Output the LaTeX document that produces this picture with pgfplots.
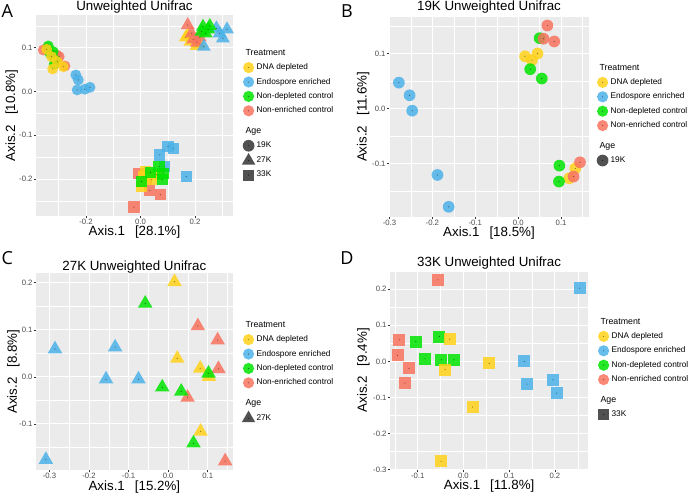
\documentclass[border=0pt]{standalone}
\usepackage{pgfplots}
\usepackage{pgfplotstable}
\pgfplotsset{compat=1.18}
\usepackage{fontspec}
\setmainfont{Liberation Sans}
\newfontfamily\letterfont{Open Sans}

\definecolor{ggbg}{HTML}{EBEBEB}
\definecolor{ggY}{HTML}{FFD21A}
\definecolor{ggB}{HTML}{4CB2E8}
\definecolor{ggG}{HTML}{00E400}
\definecolor{ggR}{HTML}{F8735F}
\definecolor{ggK}{HTML}{333333}
\definecolor{ticktext}{HTML}{4D4D4D}

% ---------------- Panel A (all ages) ----------------
\pgfplotstableread{
x y
-0.322 0.0514
-0.283 0.0567
-0.305 0.0681
-0.344 0.0962
-0.326 0.0795
}\AYc
\pgfplotstableread{
x y
-0.237 0.0377
-0.228 0.0263
-0.232 0.0036
-0.204 0.0051
-0.185 0.0096
}\ABc
\pgfplotstableread{
x y
-0.338 0.1038
-0.332 0.0871
-0.320 0.0909
-0.313 0.0719
-0.316 0.0628
}\AGc
\pgfplotstableread{
x y
-0.356 0.0947
-0.344 0.0985
-0.307 0.0833
-0.298 0.0795
-0.277 0.0582
}\ARc
\pgfplotstableread{
x y
0.166 0.1235
0.205 0.1038
0.183 0.1137
0.217 0.1084
0.174 0.1289
}\AYt
\pgfplotstableread{
x y
0.278 0.1440
0.317 0.1418
0.302 0.1213
0.232 0.1023
0.290 0.1327
}\ABt
\pgfplotstableread{
x y
0.229 0.1478
0.248 0.1418
0.223 0.1364
0.239 0.1327
0.254 0.1494
}\AGt
\pgfplotstableread{
x y
0.173 0.1516
0.193 0.1190
0.207 0.1114
0.187 0.1327
0.217 0.1235
}\ARt
\pgfplotstableread{
x y
0.0195 -0.1825
0.0037 -0.2166
0.0400 -0.2014
0.0585 -0.1900
0.0098 -0.1939
}\AYs
\pgfplotstableread{
x y
0.0707 -0.1445
0.1010 -0.1255
0.1220 -0.1293
0.1680 -0.1939
0.0890 -0.1710
}\ABs
\pgfplotstableread{
x y
0.0037 -0.2052
0.0366 -0.1848
0.0683 -0.1711
0.0830 -0.1863
0.0800 -0.2014
}\AGs
\pgfplotstableread{
x y
-0.0050 -0.1863
-0.0244 -0.2637
0.0341 -0.2257
0.0732 -0.2356
0.0220 -0.2014
}\ARs

% ---------------- Panel B (19K) ----------------
\pgfplotstableread{
x y
0.016 0.095
0.032 0.088
0.045 0.100
0.133 -0.109
0.119 -0.127
}\BY
\pgfplotstableread{
x y
-0.278 0.047
-0.253 0.024
-0.247 -0.004
-0.188 -0.121
-0.162 -0.179
}\BB
\pgfplotstableread{
x y
0.050 0.128
0.028 0.0715
0.055 0.0545
0.096 -0.104
0.095 -0.133
}\BG
\pgfplotstableread{
x y
0.068 0.151
0.059 0.127
0.084 0.122
0.144 -0.098
0.129 -0.124
}\BR

% ---------------- Panel C (27K) ----------------
\pgfplotstableread{
x y
0.016 0.202
0.023 0.039
0.081 0.018
0.103 0.0004
0.082 -0.116
}\CY
\pgfplotstableread{
x y
-0.309 -0.176
-0.286 0.059
-0.157 -0.005
-0.134 0.063
-0.075 -0.005
}\CB
\pgfplotstableread{
x y
-0.058 0.156
-0.015 -0.022
0.033 -0.031
0.102 0.0075
0.064 -0.141
}\CG
\pgfplotstableread{
x y
0.075 0.108
0.125 0.078
0.127 0.017
0.049 -0.044
0.144 -0.179
}\CR

% ---------------- Panel D (33K) ----------------
\pgfplotstableread{
x y
-0.030 0.0616
-0.040 -0.023
0.0566 -0.0057
0.020 -0.1266
-0.049 -0.277
}\DY
\pgfplotstableread{
x y
0.254 0.203
0.133 -0.0002
0.139 -0.063
0.196 -0.051
0.204 -0.088
}\DB
\pgfplotstableread{
x y
-0.104 0.055
-0.084 0.007
-0.053 0.069
-0.048 0.0044
-0.021 0.0044
}\DG
\pgfplotstableread{
x y
-0.0556 0.226
-0.140 0.060
-0.144 0.0164
-0.119 -0.0196
-0.128 -0.060
}\DR

\pgfplotsset{
  ggaxis/.style={
    scale only axis,
    axis background/.style={fill=ggbg},
    axis line style={draw=none},
    grid=both,
    major grid style={white, line width=0.6pt},
    minor grid style={white, line width=0.3pt},
    tick pos=left,
    tick align=outside,
    major tick length=1.8pt,
    minor tick length=0pt,
    tick style={ggK, line width=0.4pt},
    scaled ticks=false,
    ticklabel style={font=\fontsize{5.8}{6}\selectfont, text=ticktext, inner sep=0.6pt},
    /pgf/number format/assume math mode=true,
    xticklabel style={/pgf/number format/fixed, /pgf/number format/fixed zerofill, /pgf/number format/precision=1},
    yticklabel style={/pgf/number format/fixed, /pgf/number format/fixed zerofill, /pgf/number format/precision=1},
    label style={font=\fontsize{8}{9}\selectfont, inner sep=0.3pt},
    title style={font=\fontsize{8.3}{9}\selectfont, inner sep=0.5pt},
    legend style={draw=none, fill=none, inner sep=0pt, row sep=0pt, column sep=0pt,
      nodes={inner sep=0.5pt}, font=\fontsize{6.2}{7}\selectfont, anchor=north west},
    legend cell align=left,
  },
  xlab/.style={every axis x label/.style={at={(axis description cs:0.5,0)}, anchor=center, yshift=-#1}},
  ylab/.style={every axis y label/.style={at={(axis description cs:0,0.5)}, xshift=-#1, rotate=90, anchor=center}},
  ttl/.style={every axis title/.style={at={(axis description cs:0.5,1)}, anchor=center, yshift=#1}},
  ggblank/.style={legend image code/.code={\path[draw=none,fill=none] (-5.5pt,-5.4pt) rectangle (5.5pt,5.4pt);}},
  gggap/.style={legend image code/.code={\path[draw=none,fill=none] (-5.5pt,-5.4pt) rectangle (5.5pt,10pt);}},
  ggkey/.style 2 args={legend image code/.code={%
    \path[draw=none,fill=none] (-5.5pt,-5.4pt) rectangle (5.5pt,5.4pt);
    \path[draw=none,fill=none] plot[#1, mark options={draw opacity=0, fill=#2, fill opacity=0.85}] coordinates {(0pt,0pt)};
    \path[draw=none,fill=none] plot[mark=*, mark size=0.45pt, mark options={draw opacity=0, fill=#2!55!black}] coordinates {(0pt,0pt)};
  }},
}

\newcommand{\ggpts}[4]{%
  \addplot[forget plot, only marks, mark=#1, mark size=#2, mark options={draw opacity=0, fill=#3, fill opacity=0.85}] table {#4};
  \addplot[forget plot, only marks, mark=*, mark size=0.45pt, mark options={draw opacity=0, fill=#3!55!black}] table {#4};
}
\newcommand{\treatlegend}{%
  \addlegendimage{ggblank}\addlegendentry{\hspace*{-8.25pt}\fontsize{6.6}{7}\selectfont Treatment}
  \addlegendimage{ggkey={mark=*,mark size=4.2pt}{ggY}}\addlegendentry{DNA depleted}
  \addlegendimage{ggkey={mark=*,mark size=4.2pt}{ggB}}\addlegendentry{Endospore enriched}
  \addlegendimage{ggkey={mark=*,mark size=4.2pt}{ggG}}\addlegendentry{Non-depleted control}
  \addlegendimage{ggkey={mark=*,mark size=4.2pt}{ggR}}\addlegendentry{Non-enriched control}
  \addlegendimage{gggap}\addlegendentry{\hspace*{-8.25pt}\fontsize{6.6}{7}\selectfont Age}
}

\begin{document}
\begin{tikzpicture}
\useasboundingbox (0pt,0pt) rectangle (518.25pt,369.75pt);

% Panel letters
\node[font=\letterfont\fontsize{13.5}{14}\selectfont] at (5.4pt,361.1pt) {A};
\node[font=\letterfont\fontsize{13.5}{14}\selectfont] at (260.25pt,361.1pt) {B};
\node[font=\letterfont\fontsize{13.5}{14}\selectfont] at (5.4pt,176pt) {C};
\node[font=\letterfont\fontsize{13.5}{14}\selectfont] at (260.25pt,176pt) {D};

% ---------------- A ----------------
\begin{axis}[ggaxis, at={(27pt,207.75pt)}, anchor=south west,
  width=147.75pt, height=150.75pt,
  xmin=-0.383, xmax=0.339, ymin=-0.284, ymax=0.1745,
  xtick={-0.2,0,0.2}, minor xtick={-0.3,-0.1,0.1,0.3},
  ytick={-0.2,-0.1,0,0.1}, minor ytick={-0.25,-0.15,-0.05,0.05,0.15},
  title={Unweighted Unifrac}, ttl=5.8pt,
  xlabel={Axis.1\hspace{0.75em}[28.1\%]}, xlab=12pt,
  ylabel={Axis.2\hspace{0.75em}[10.8\%]}, ylab=18.2pt,
  legend style={at={(1.0406,0.847)}},
]
\ggpts{*}{4.1pt}{ggR}{\ARc}
\ggpts{*}{4.1pt}{ggG}{\AGc}
\ggpts{*}{4.1pt}{ggY}{\AYc}
\ggpts{*}{4.1pt}{ggB}{\ABc}
\ggpts{triangle*}{6pt}{ggY}{\AYt}
\ggpts{triangle*}{6pt}{ggR}{\ARt}
\ggpts{triangle*}{6pt}{ggB}{\ABt}
\ggpts{triangle*}{6pt}{ggG}{\AGt}
\ggpts{square*}{4.25pt}{ggR}{\ARs}
\ggpts{square*}{4.25pt}{ggY}{\AYs}
\ggpts{square*}{4.25pt}{ggB}{\ABs}
\ggpts{square*}{4.25pt}{ggG}{\AGs}
\treatlegend
\addlegendimage{ggkey={mark=*,mark size=4.4pt}{ggK}}\addlegendentry{19K}
\addlegendimage{ggkey={mark=triangle*,mark size=5.8pt}{ggK}}\addlegendentry{27K}
\addlegendimage{ggkey={mark=square*,mark size=4.1pt}{ggK}}\addlegendentry{33K}
\end{axis}

% ---------------- B ----------------
\begin{axis}[ggaxis, at={(291.75pt,207.2pt)}, anchor=south west,
  width=150pt, height=150pt,
  xmin=-0.301, xmax=0.165, ymin=-0.197, ymax=0.167,
  xtick={-0.3,-0.2,-0.1,0,0.1}, minor xtick={-0.25,-0.15,-0.05,0.05,0.15},
  ytick={-0.1,0,0.1}, minor ytick={-0.15,-0.05,0.05,0.15},
  title={19K Unweighted Unifrac}, ttl=7pt,
  xlabel={Axis.1\hspace{0.75em}[18.5\%]}, xlab=12pt,
  ylabel={Axis.2\hspace{0.75em}[11.6\%]}, ylab=19.3pt,
  legend style={at={(1.03,0.781)}},
]
\ggpts{*}{4.4pt}{ggB}{\BB}
\ggpts{*}{4.4pt}{ggY}{\BY}
\ggpts{*}{4.4pt}{ggG}{\BG}
\ggpts{*}{4.4pt}{ggR}{\BR}
\treatlegend
\addlegendimage{ggkey={mark=*,mark size=4.4pt}{ggK}}\addlegendentry{19K}
\end{axis}

% ---------------- C ----------------
\begin{axis}[ggaxis, at={(27pt,17.25pt)}, anchor=south west,
  width=147.5pt, height=147.5pt,
  xmin=-0.334, xmax=0.163, ymin=-0.198, ymax=0.22,
  xtick={-0.3,-0.2,-0.1,0,0.1}, minor xtick={-0.25,-0.15,-0.05,0.05,0.15},
  ytick={-0.1,0,0.1,0.2}, minor ytick={-0.15,-0.05,0.05,0.15},
  title={27K Unweighted Unifrac}, ttl=5pt,
  xlabel={Axis.1\hspace{0.75em}[15.2\%]}, xlab=12.5pt,
  ylabel={Axis.2\hspace{0.75em}[8.8\%]}, ylab=17pt,
  legend style={at={(1.042,0.774)}},
]
\ggpts{triangle*}{6.3pt}{ggB}{\CB}
\ggpts{triangle*}{6.3pt}{ggY}{\CY}
\ggpts{triangle*}{6.3pt}{ggR}{\CR}
\ggpts{triangle*}{6.3pt}{ggG}{\CG}
\treatlegend
\addlegendimage{ggkey={mark=triangle*,mark size=5.8pt}{ggK}}\addlegendentry{27K}
\end{axis}

% ---------------- D ----------------
\begin{axis}[ggaxis, at={(292.5pt,17.25pt)}, anchor=south west,
  width=148.7pt, height=149.5pt,
  xmin=-0.1605, xmax=0.273, ymin=-0.301, ymax=0.2515,
  xtick={-0.1,0,0.1,0.2}, minor xtick={-0.15,-0.05,0.05,0.15,0.25},
  ytick={-0.3,-0.2,-0.1,0,0.1,0.2}, minor ytick={-0.25,-0.15,-0.05,0.05,0.15,0.25},
  title={33K Unweighted Unifrac}, ttl=6pt,
  xlabel={Axis.1\hspace{0.75em}[11.8\%]}, xlab=12pt,
  ylabel={Axis.2\hspace{0.75em}[9.4\%]}, ylab=20pt,
  legend style={at={(1.039,0.780)}},
]
\ggpts{square*}{4.5pt}{ggR}{\DR}
\ggpts{square*}{4.5pt}{ggG}{\DG}
\ggpts{square*}{4.5pt}{ggY}{\DY}
\ggpts{square*}{4.5pt}{ggB}{\DB}
\treatlegend
\addlegendimage{ggkey={mark=square*,mark size=4.1pt}{ggK}}\addlegendentry{33K}
\end{axis}
\end{tikzpicture}
\end{document}
